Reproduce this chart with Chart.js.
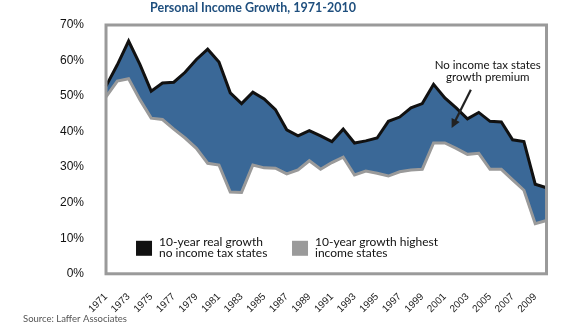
<!DOCTYPE html>
<html>
<head>
<meta charset="utf-8">
<script src="https://cdn.jsdelivr.net/npm/chart.js@4"></script>
<style>
  body { margin: 0; background: #fff; }
  #myChart { display: block; }
</style>
</head>
<body>
<canvas id="myChart" width="564" height="329"></canvas>
<script>
// years 1971 - 2010
var years = [];
for (var y = 1971; y <= 2010; y++) { years.push(String(y)); }

// 10-year real growth, no income tax states (%)
var noTaxGrowth = [
  52.8, 58.8, 65.5, 58.9, 51.4, 53.7, 53.9, 56.7, 60.3, 63.2,
  59.6, 50.9, 47.9, 51.1, 49.2, 46.2, 40.5, 38.8, 40.3, 38.8,
  37.2, 40.7, 36.8, 37.4, 38.2, 42.9, 44.1, 46.7, 47.9, 53.3,
  49.5, 46.7, 43.6, 45.4, 42.9, 42.7, 37.7, 37.2, 25.2, 24.2
];

// 10-year growth, highest income tax states (%)
var highTaxGrowth = [
  49.8, 54.2, 54.9, 49.0, 43.8, 43.4, 40.7, 38.2, 35.3, 31.1,
  30.6, 23.0, 22.9, 30.6, 29.8, 29.7, 28.1, 29.2, 31.8, 29.4,
  31.3, 32.8, 27.8, 28.9, 28.3, 27.5, 28.7, 29.2, 29.4, 36.8,
  36.8, 35.3, 33.6, 33.9, 29.4, 29.4, 26.4, 23.5, 14.1, 15.0
];

var yTicks = [0, 10, 20, 30, 40, 50, 60, 70];

var titleText = "Personal Income Growth, 1971-2010";
var sourceText = "Source: Laffer Associates";
var legendLabels = [
  ["10-year real growth", "no income tax states"],
  ["10-year growth highest", "income states"]
];
var noteLines = ["No income tax states", "growth premium"];

var blue = "#3a6897";
var black = "#111111";
var grey = "#9a9a9a";
var bodyFont = "Lato, 'Open Sans', sans-serif";

var last = years.length - 1;

// title, frame, legend, note, source
var extras = {
  id: "extras",
  afterDatasetsDraw: function(chart) {
    var ctx = chart.ctx;
    var a = chart.chartArea;
    var xs = chart.scales.x, ys = chart.scales.y;
    ctx.save();

    // frame round plot
    ctx.strokeStyle = grey;
    ctx.lineWidth = 3;
    ctx.strokeRect(a.left, a.top, a.right - a.left, a.bottom - a.top);

    // title
    ctx.fillStyle = "#1f4f7e";
    ctx.font = "bold 12.5px " + bodyFont;
    ctx.textAlign = "center";
    ctx.textBaseline = "middle";
    ctx.fillText(titleText, 253, 8);

    // legend
    ctx.font = "12px " + bodyFont;
    ctx.textAlign = "left";
    var boxes = [[a.left + 30, black], [a.left + 186, grey]];
    for (var i = 0; i < boxes.length; i++) {
      var bx = boxes[i][0];
      ctx.fillStyle = boxes[i][1];
      ctx.fillRect(bx, a.bottom - 33, 16, 15);
      ctx.fillStyle = "#111";
      ctx.fillText(legendLabels[i][0], bx + 23, a.bottom - 32);
      ctx.fillText(legendLabels[i][1], bx + 23, a.bottom - 21);
    }

    // note with arrow
    ctx.font = "11.5px " + bodyFont;
    ctx.textAlign = "center";
    var nx = xs.getPixelForValue(33.8);
    ctx.fillText(noteLines[0], nx, ys.getPixelForValue(58.6));
    ctx.fillText(noteLines[1], nx, ys.getPixelForValue(55.2));

    var x1 = xs.getPixelForValue(32.3), y1 = ys.getPixelForValue(51.8);
    var x2 = xs.getPixelForValue(30.6), y2 = ys.getPixelForValue(41.0);
    var ang = Math.atan2(y2 - y1, x2 - x1);
    ctx.strokeStyle = "#222";
    ctx.fillStyle = "#222";
    ctx.lineWidth = 2.2;
    ctx.beginPath();
    ctx.moveTo(x1, y1);
    ctx.lineTo(x2 - 6 * Math.cos(ang), y2 - 6 * Math.sin(ang));
    ctx.stroke();
    ctx.beginPath();
    ctx.moveTo(x2, y2);
    ctx.lineTo(x2 - 9 * Math.cos(ang) + 4.5 * Math.sin(ang), y2 - 9 * Math.sin(ang) - 4.5 * Math.cos(ang));
    ctx.lineTo(x2 - 9 * Math.cos(ang) - 4.5 * Math.sin(ang), y2 - 9 * Math.sin(ang) + 4.5 * Math.cos(ang));
    ctx.closePath();
    ctx.fill();

    // source
    ctx.textAlign = "left";
    ctx.fillStyle = "#555";
    ctx.font = "9.5px " + bodyFont;
    ctx.fillText(sourceText, 23, 319);

    ctx.restore();
  }
};

const ctx = document.getElementById("myChart").getContext("2d");

var incomeChart = new Chart(ctx, {
  type: "line",
  data: {
    labels: years,
    datasets: [
      {
        label: "10-year real growth no income tax states",
        data: noTaxGrowth,
        borderColor: black,
        borderWidth: 3,
        backgroundColor: blue,
        fill: "+1",
        pointRadius: 0,
        tension: 0
      },
      {
        label: "10-year growth highest income states",
        data: highTaxGrowth,
        borderColor: grey,
        borderWidth: 3,
        pointRadius: 0,
        fill: false,
        tension: 0
      },
      {
        label: "edge",
        data: [{ x: years[last], y: noTaxGrowth[last] }, { x: years[last], y: highTaxGrowth[last] }],
        borderColor: black,
        borderWidth: 3,
        pointRadius: 0,
        fill: false
      }
    ]
  },
  options: {
    responsive: false,
    animation: false,
    layout: { padding: { top: 25, left: 46, right: 11, bottom: 5 } },
    plugins: {
      legend: { display: false },
      title: { display: false },
      tooltip: { enabled: false },
      filler: { drawTime: "beforeDatasetsDraw" }
    },
    scales: {
      x: {
        grid: { display: false },
        border: { display: false },
        ticks: {
          autoSkip: false,
          maxRotation: 45,
          minRotation: 45,
          padding: 9,
          color: "#222",
          font: { family: "'Liberation Sans', Arial, sans-serif", size: 10 },
          callback: function(val, i) { return i % 2 === 0 ? years[i] : ""; }
        }
      },
      y: {
        min: yTicks[0],
        max: yTicks[yTicks.length - 1],
        grid: { display: false },
        border: { display: false },
        afterBuildTicks: function(axis) { axis.ticks = yTicks.map(function(v) { return { value: v }; }); },
        ticks: {
          padding: 14,
          color: "#111",
          font: { family: "'Liberation Sans', Arial, sans-serif", size: 12 },
          callback: function(v) { return v + "%"; }
        }
      }
    }
  },
  plugins: [extras]
});
</script>
</body>
</html>
